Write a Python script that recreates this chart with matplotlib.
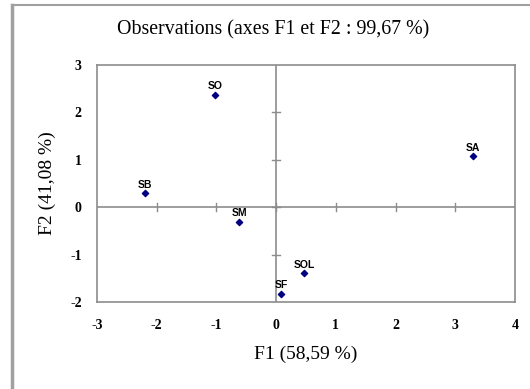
import matplotlib.pyplot as plt
from matplotlib.lines import Line2D

# observations on the first two factor axes
names = ["SO", "SA", "SB", "SM", "SOL", "SF"]
f1 = [-1.02, 3.30, -2.20, -0.62, 0.47, 0.08]
f2 = [2.37, 1.08, 0.30, -0.31, -1.39, -1.83]

xticks = [-3, -2, -1, 0, 1, 2, 3, 4]
yticks = [-2, -1, 0, 1, 2, 3]

serif = ["Liberation Serif", "DejaVu Serif"]
grey = "#8c8c8c"

fig = plt.figure(figsize=(5.3, 3.89), dpi=100)
ax = fig.add_axes([97 / 530, 1 - 302 / 389, (515 - 97) / 530, (302 - 65) / 389])

# outer frame pieces (only left and top are visible)
fig.add_artist(Line2D([11.5 / 530, 11.5 / 530], [0, 1 - 5 / 389], color="#a0a0a0", lw=2.5,
                      transform=fig.transFigure))
fig.add_artist(Line2D([11.5 / 530, 1], [1 - 5 / 389, 1 - 5 / 389], color="#a0a0a0", lw=1.5,
                      transform=fig.transFigure))

ax.set_xlim(-3, 4)
ax.set_ylim(-2, 3)
for s in ax.spines.values():
    s.set_color(grey)
    s.set_linewidth(1.2)

ax.axhline(0, color=grey, lw=1.2)
ax.axvline(0, color=grey, lw=1.2)
# small tick marks on the zero lines
for t in xticks[1:-1]:
    ax.plot([t, t], [-0.08, 0.08], color=grey, lw=1)
for t in yticks[1:-1]:
    ax.plot([-0.07, 0.07], [t, t], color=grey, lw=1)

ax.set_xticks(xticks)
ax.set_yticks(yticks)
ax.tick_params(length=0)
ax.set_xticklabels([str(t) for t in xticks], fontfamily=serif, fontweight="bold", fontsize=10)
ax.set_yticklabels([str(t) for t in yticks], fontfamily=serif, fontweight="bold", fontsize=10)
ax.tick_params(axis="x", pad=12)
ax.tick_params(axis="y", pad=11)

ax.scatter(f1, f2, marker="D", s=10, color="#000080", zorder=5)
for n, x, y in zip(names, f1, f2):
    ax.annotate(n, (x, y), xytext=(0, 2.5), textcoords="offset points", ha="center", va="bottom",
                fontsize=7.5, fontweight="bold", fontfamily="Liberation Sans", zorder=6)

ax.set_xlabel("F1 (58,59 %)", fontfamily=serif, fontsize=14, labelpad=10)
ax.set_ylabel("F2 (41,08 %)", fontfamily=serif, fontsize=14, labelpad=10)
fig.text(273 / 530, 1 - 30 / 389, "Observations (axes F1 et F2 : 99,67 %)", ha="center", va="center",
         fontfamily=serif, fontsize=14.3)

fig.savefig("out.png", dpi=100)
